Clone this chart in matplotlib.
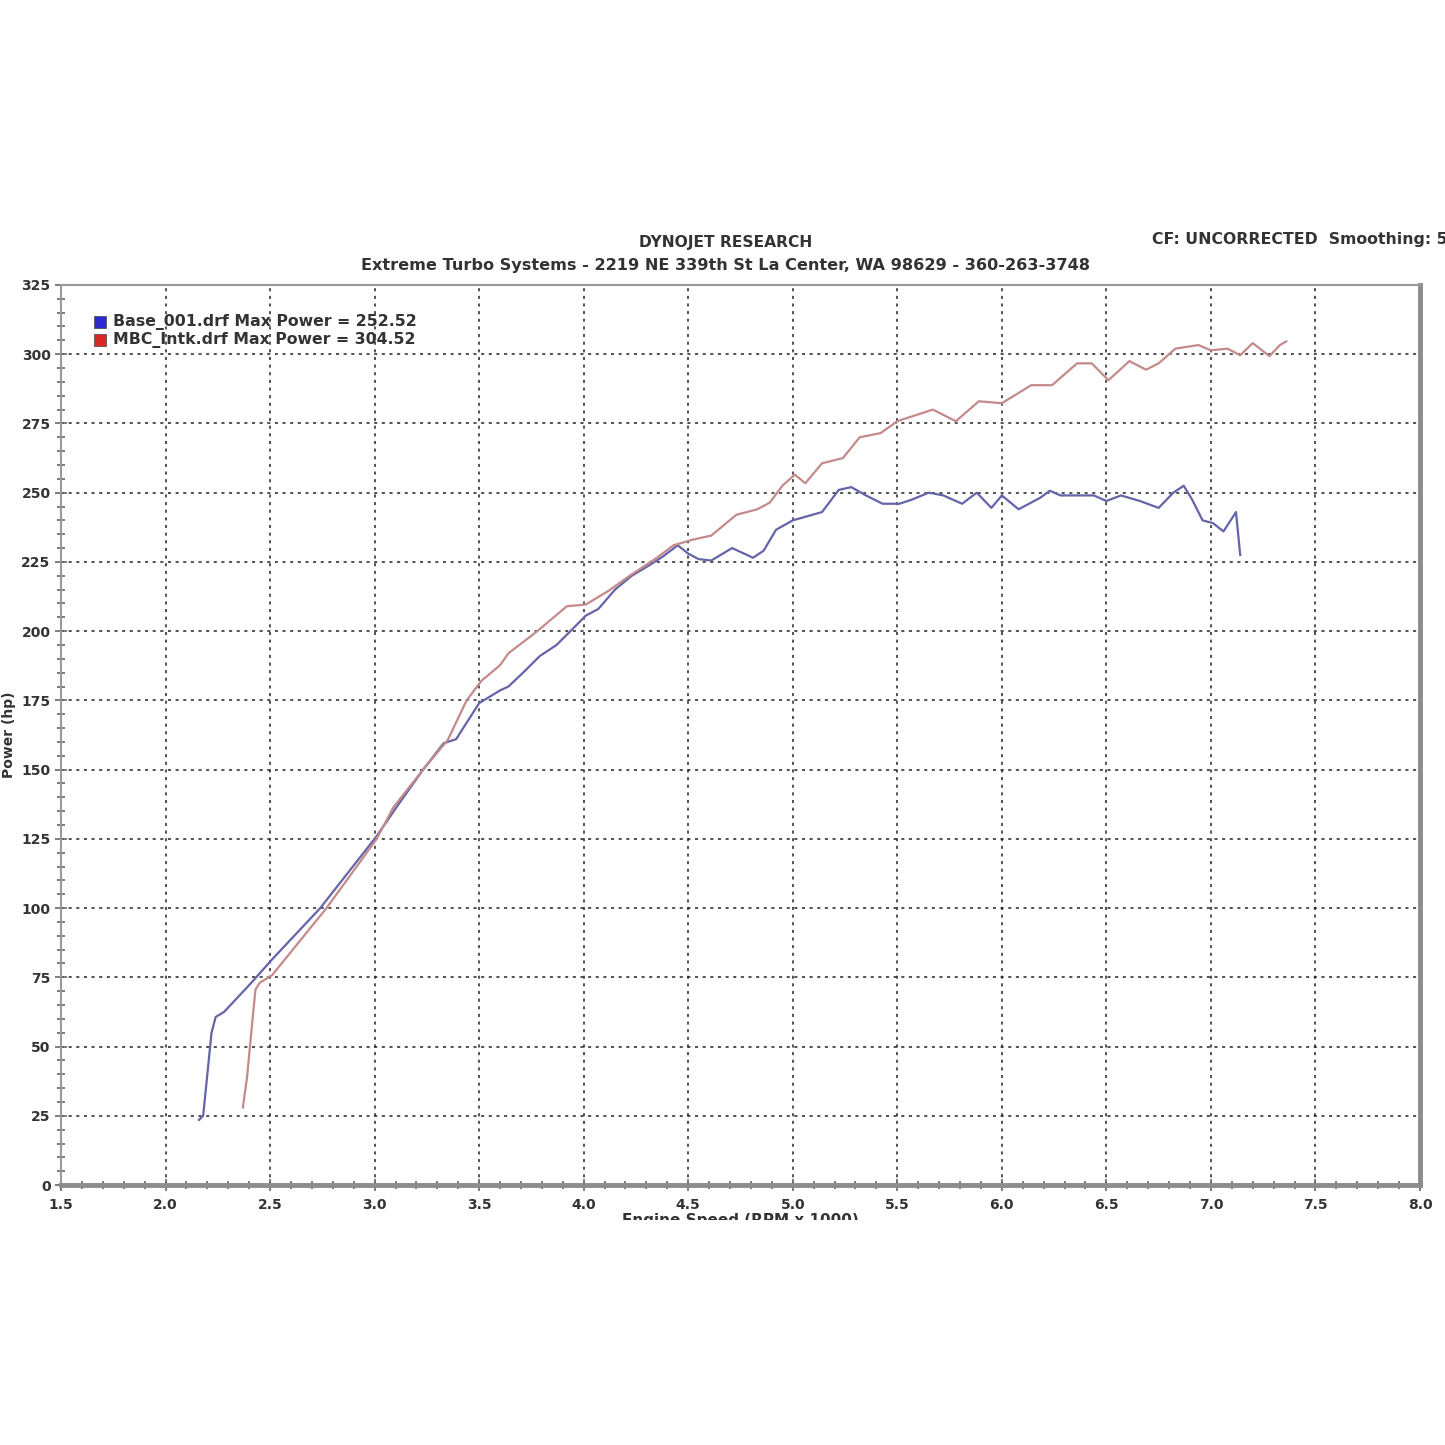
import numpy as np
import matplotlib
matplotlib.use("Agg")
import matplotlib.pyplot as plt
from matplotlib.ticker import MultipleLocator

# engine speed (RPM x 1000) and power (hp)
base_rpm = [2.16, 2.18, 2.22, 2.24, 2.28, 2.41, 2.51, 2.74, 3.01, 3.11, 3.23, 3.33, 3.39,
            3.50, 3.60, 3.64, 3.71, 3.79, 3.87, 3.93, 4.01, 4.07, 4.15, 4.23, 4.31, 4.38,
            4.45, 4.50, 4.55, 4.61, 4.71, 4.81, 4.86, 4.92, 5.00, 5.07, 5.14, 5.22, 5.28,
            5.35, 5.43, 5.51, 5.57, 5.65, 5.72, 5.81, 5.88, 5.95, 6.00, 6.08, 6.18, 6.23,
            6.28, 6.44, 6.50, 6.57, 6.66, 6.75, 6.82, 6.87, 6.91, 6.96, 7.01, 7.06, 7.12,
            7.14]
base_hp = [23.5, 25, 55, 60.7, 62.5, 73, 81.5, 100, 126, 137, 149.8, 159.5, 161,
           174, 178.6, 180, 185, 191, 195, 199.5, 205.6, 208, 215, 220, 223.6, 227,
           231, 228, 226, 225.5, 230, 226.5, 229, 236.6, 240, 241.5, 243, 251, 252,
           249, 246, 246, 247.5, 250, 249, 246, 250, 244.5, 249, 244, 248, 250.7,
           249, 249, 247, 249, 247, 244.5, 250, 252.5, 247.5, 240, 239, 236, 243,
           227.5]

mbc_rpm = [2.37, 2.39, 2.41, 2.43, 2.45, 2.51, 2.77, 3.01, 3.09, 3.23, 3.35, 3.44, 3.51,
           3.60, 3.64, 3.77, 3.92, 4.01, 4.12, 4.22, 4.35, 4.43, 4.52, 4.61, 4.73, 4.83,
           4.89, 4.95, 5.01, 5.06, 5.14, 5.24, 5.32, 5.42, 5.50, 5.67, 5.78, 5.89, 6.00,
           6.14, 6.24, 6.36, 6.43, 6.51, 6.61, 6.69, 6.75, 6.83, 6.94, 7.00, 7.08, 7.14,
           7.20, 7.28, 7.33, 7.36]
mbc_hp = [28, 39, 55, 70.5, 73, 75.8, 100, 125, 136.4, 149.8, 160.7, 175, 182,
          187.7, 192, 199.5, 209, 209.6, 214.6, 220, 226.5, 231, 233, 234.5, 242, 244,
          246.4, 252.5, 256.5, 253.4, 260.6, 262.5, 270, 271.5, 275.8, 280, 275.8, 283, 282.3,
          288.8, 288.8, 296.7, 296.7, 290.6, 297.5, 294.4, 296.7, 302, 303.3, 301.4, 302, 299.6,
          304, 299.3, 303.3, 304.6]

legend_labels = ["Base_001.drf Max Power = 252.52", "MBC_Intk.drf Max Power = 304.52"]
line_colors = ["#6464a8", "#c48a8a"]
legend_colors = ["#2a2ad0", "#d82828"]

txt = "#333333"
fig = plt.figure(figsize=(14.45, 14.45), dpi=100)
ax = fig.add_axes([0.0422, 0.1799, 0.9405, 0.6229])

ax.plot(base_rpm, base_hp, color=line_colors[0], lw=1.6)
ax.plot(mbc_rpm, mbc_hp, color=line_colors[1], lw=1.6)

ax.set_xlim(1.5, 8.0)
ax.set_ylim(0, 325)
ax.xaxis.set_major_locator(MultipleLocator(0.5))
ax.xaxis.set_minor_locator(MultipleLocator(0.1))
ax.yaxis.set_major_locator(MultipleLocator(25))
ax.yaxis.set_minor_locator(MultipleLocator(5))
ax.xaxis.set_major_formatter(plt.FormatStrFormatter("%.1f"))
ax.grid(True, which="major", color="#222222", ls=(0, (2, 3)), lw=1.1)
ax.tick_params(which="both", direction="inout", colors="#666666", labelcolor=txt)
ax.tick_params(which="major", length=8, width=1.2, labelsize=10)
ax.tick_params(which="minor", length=6, width=1.2)
for lab in ax.get_xticklabels() + ax.get_yticklabels():
    lab.set_fontweight("bold")
ax.tick_params(axis="x", pad=5)

for side in ["top", "left"]:
    ax.spines[side].set_color("#999999")
    ax.spines[side].set_linewidth(1.5)
for side in ["bottom", "right"]:
    ax.spines[side].set_color("#8c8c8c")
    ax.spines[side].set_linewidth(3.5)

for i, (lab, c) in enumerate(zip(legend_labels, legend_colors)):
    yy = 0.959 - i * 0.02
    ax.scatter([0.0285], [yy], marker="s", s=80, color=c, edgecolor="#444444",
               linewidth=0.5, transform=ax.transAxes, zorder=5, clip_on=False)
    ax.text(0.0385, yy, lab, transform=ax.transAxes, fontsize=11.3, fontweight="bold",
            color=txt, va="center", ha="left")

ax.set_ylabel("Power (hp)", fontsize=10, fontweight="bold", color=txt, labelpad=4)
ax.set_xlabel("Engine Speed (RPM x 1000)", fontsize=11, fontweight="bold", color=txt, labelpad=1)

fig.text(0.502, 0.832, "DYNOJET RESEARCH", ha="center", va="center",
         fontsize=11.2, fontweight="bold", color=txt)
fig.text(0.502, 0.8165, "Extreme Turbo Systems - 2219 NE 339th St La Center, WA 98629 - 360-263-3748",
         ha="center", va="center", fontsize=11.6, fontweight="bold", color=txt)
fig.text(0.797, 0.8345, "CF: UNCORRECTED  Smoothing: 5", ha="left", va="center",
         fontsize=11.3, fontweight="bold", color=txt)

# the original screenshot is cropped just below the axis title
fig.patches.append(plt.Rectangle((0, 0), 1, 0.1555, transform=fig.transFigure,
                                 facecolor="white", edgecolor="none", zorder=10))

fig.savefig("out.png", dpi=100, facecolor="white")
